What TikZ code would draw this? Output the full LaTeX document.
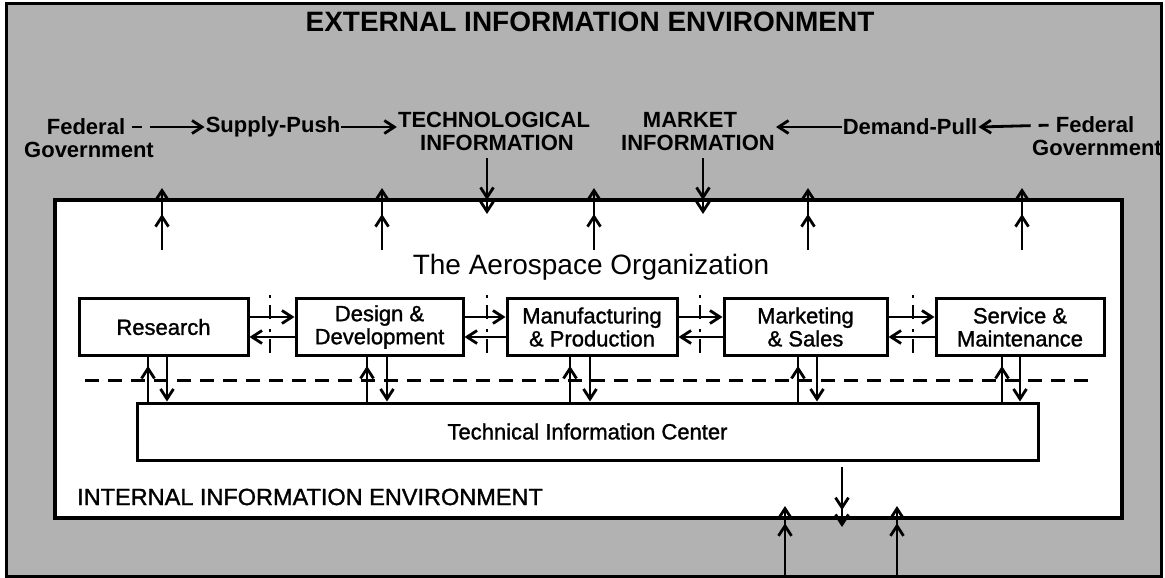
\documentclass[tikz,border=0pt]{standalone}
\usepackage{fontspec}
\setmainfont{Liberation Sans}
\newfontfamily\heavyfont[FakeBold=1.3]{Liberation Sans}
\usetikzlibrary{arrows.meta,decorations.markings}
\tikzset{
  >={Straight Barb[length=10pt,width=13pt]},
  lbl/.style={font=\fontsize{22}{24}\bfseries\selectfont, inner sep=1pt},
  box/.style={draw, line width=3pt, fill=white, minimum height=57pt, align=center,
    font=\heavyfont\fontsize{22}{23}\selectfont, inner sep=2pt},
  conn/.style={line width=2.8pt},
  midtip/.style={postaction={decorate,decoration={markings,mark=at position #1 with {\arrow{>}}}}},
  sepline/.style={line width=1.8pt, dash pattern=on 3pt off 7pt on 14pt off 10pt},
  dashline/.style={line width=3pt, dash pattern=on 14pt off 9pt},
}
\begin{document}
\begin{tikzpicture}[x=1pt,y=-1pt]
\useasboundingbox (0,0) rectangle (1165,578);
\fill[black!30] (6,4) rectangle (1161,576);
\draw[line width=3pt] (6,4) rectangle (1161,576);
\node[draw, line width=3.6pt, fill=white, minimum width=1067pt, minimum height=318pt, inner sep=0pt] (inner) at (588.5,359) {};

% title
\node[font=\fontsize{28}{30}\bfseries\selectfont] (title) at (590,22) {EXTERNAL INFORMATION ENVIRONMENT};

% top labels
\node[lbl] (fedL1) at (86,127) {Federal};
\node[lbl] (fedL2) at (89,150) {Government};
\node[lbl] (supply) at (273,127) {Supply-Push};
\node[lbl] (tech1) at (494,120) {TECHNOLOGICAL};
\node[lbl] (tech2) at (497,143) {INFORMATION};
\node[lbl] (mkt1) at (690,120) {MARKET};
\node[lbl] (mkt2) at (698,143) {INFORMATION};
\node[lbl] (demand) at (910,127) {Demand-Pull};
\node[lbl] (fedR1) at (1095,125) {Federal};
\node[lbl] (fedR2) at (1097,148) {Government};

\draw[conn,->, shorten <=6pt, dash pattern=on 10pt off 8pt on 60pt] (fedL1.east) -- (supply.west);
\draw[conn,->] (supply.east) -- (supply.east -| tech1.west);
\draw[conn,->] (demand.west) -- (demand.west -| mkt2.east);
\draw[conn,->, shorten <=6pt, dash pattern=on 10pt off 8pt on 60pt] (fedR1.west) -- (demand.east);

% arrows crossing the top edge
\foreach \x [count=\i] in {162,382,594,808,1022}{
  \coordinate (us\i) at (\x,250);
  \coordinate (ue\i) at (\x,188);
  \draw[conn,->,midtip=0.58] (us\i) -- (ue\i);
}
\coordinate (ds1) at (487,158);
\coordinate (de1) at (487,214);
\coordinate (ds2) at (703,158);
\coordinate (de2) at (703,214);
\draw[conn,->,midtip=0.75] (ds1) -- (de1);
\draw[conn,->,midtip=0.75] (ds2) -- (de2);

% organisation title
\node[font=\fontsize{28}{30}\selectfont] (org) at (591,267) {The Aerospace Organization};

% function boxes
\node[box, minimum width=169pt] (res) at (163.5,327) {Research};
\node[box, minimum width=167pt] (dd) at (379.5,327) {Design \&\\Development};
\node[box, minimum width=170pt] (mp) at (592,327) {Manufacturing\\\& Production};
\node[box, minimum width=163pt] (ms) at (805.5,327) {Marketing\\\& Sales};
\node[box, minimum width=168pt] (sm) at (1020,327) {Service \&\\Maintenance};

% horizontal flows between boxes
\foreach \a/\b in {res/dd,dd/mp,mp/ms,ms/sm}{
  \draw[conn,->] ([yshift=10pt]\a.east) -- ([yshift=10pt]\b.west);
  \draw[conn,->] ([yshift=-10pt]\b.west) -- ([yshift=-10pt]\a.east);
}
% dash-dot separators
\foreach \x [count=\i] in {270,487,700,913}{
  \coordinate (st\i) at (\x,295);
  \coordinate (sb\i) at (\x,360);
  \draw[sepline] (st\i) -- (sb\i);
}

% technical information center
\node[box, minimum width=901pt, font=\heavyfont\fontsize{22}{24}\selectfont] (tic) at (587.5,431.5) {Technical Information Center};

% dashed boundary
\coordinate (dl) at (85,380);
\coordinate (dr) at (1092,380);
\draw[dashline] (dl) -- (dr);

% vertical flows box <-> TIC
\foreach \n/\u/\d in {res/148/167, dd/367/387, mp/570/590, ms/798/817, sm/1002/1020}{
  \draw[conn,midtip=0.8] (tic.north -| \u,0) -- (\n.south -| \u,0);
  \draw[conn,->] (\n.south -| \d,0) -- (tic.north -| \d,0);
}

% internal label
\node[anchor=west, font=\heavyfont\fontsize{23.5}{25}\selectfont, inner sep=0pt] (intl) at (77,497) {INTERNAL INFORMATION ENVIRONMENT};

% arrows crossing the bottom edge
\coordinate (bds) at (842,467);
\coordinate (bde) at (842,527);
\draw[conn,->,midtip=0.72] (bds) -- (bde);
\coordinate (bu1s) at (785,578);
\coordinate (bu1e) at (785,506);
\coordinate (bu2s) at (897,578);
\coordinate (bu2e) at (897,506);
\draw[conn,->,midtip=0.76] (bu1s) -- (bu1e);
\draw[conn,->,midtip=0.76] (bu2s) -- (bu2e);
\end{tikzpicture}
\end{document}
